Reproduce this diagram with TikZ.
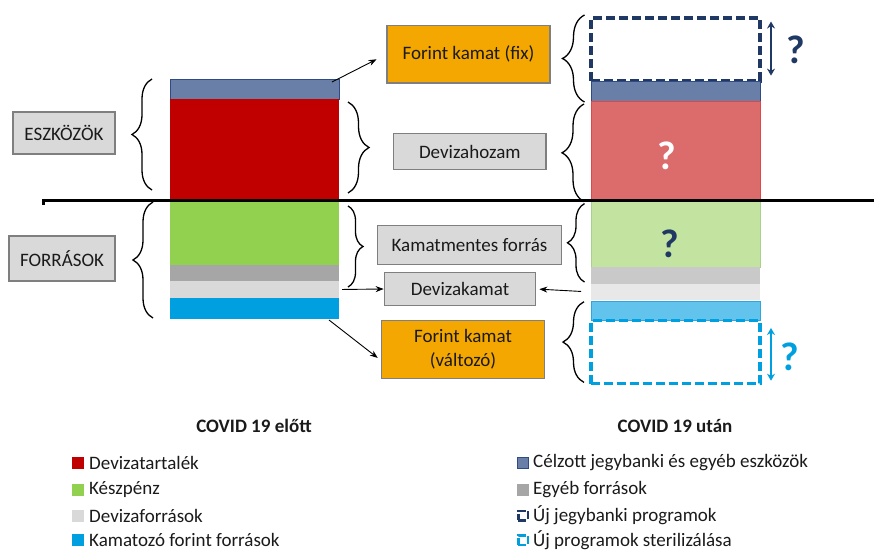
\documentclass[tikz,border=0pt]{standalone}
\usepackage{fontspec}
\setmainfont{Carlito}
\usetikzlibrary{calc,arrows.meta,decorations.pathreplacing}
\definecolor{navy}{HTML}{1F3864}
\definecolor{steel}{HTML}{6A7FA8}
\definecolor{steelb}{HTML}{2F4A85}
\definecolor{dred}{HTML}{C00000}
\definecolor{lred}{HTML}{DC6B6B}
\definecolor{lredb}{HTML}{E04848}
\definecolor{lgreen}{HTML}{92D050}
\definecolor{pgreen}{HTML}{C3E3A0}
\definecolor{pgreenb}{HTML}{A9D18E}
\definecolor{mgray}{HTML}{A6A6A6}
\definecolor{pgray}{HTML}{C9C9C9}
\definecolor{lgray}{HTML}{D9D9D9}
\definecolor{vlgray}{HTML}{E8E8E8}
\definecolor{cyanb}{HTML}{00A0E0}
\definecolor{lcyan}{HTML}{62C3EC}
\definecolor{lcyanb}{HTML}{2EA7E0}
\definecolor{orangeb}{HTML}{F4A700}
\definecolor{boxedge}{HTML}{7F7F7F}
\definecolor{txt}{HTML}{1A1A1A}
\tikzset{
  lbl/.style={draw=boxedge, line width=1.2pt, fill=lgray, inner sep=0pt, align=center,
    text=txt, font=\fontsize{19}{24}\selectfont},
  obox/.style={lbl, fill=orangeb},
  bar/.style={inner sep=0pt, outer sep=0pt, minimum width=169pt},
  dashbox/.style={bar, line width=3.3pt, dash pattern=on 9pt off 4pt},
  cbrace/.style={decorate, decoration={brace, amplitude=#1}, line width=1.3pt},
  conn/.style={-{Stealth[length=8pt,width=6pt]}, line width=0.9pt},
  dbl/.style={line width=2.2pt, {Stealth[length=7pt,width=8pt]}-{Stealth[length=7pt,width=8pt]}},
  qm/.style={font=\fontsize{40}{40}\selectfont\bfseries, inner sep=0pt},
  legsq/.style={minimum size=12pt, inner sep=0pt, outer sep=0pt},
  legtxt/.style={anchor=west, inner sep=0pt, text=txt, font=\fontsize{19}{23}\selectfont},
  title/.style={inner sep=0pt, text=txt, font=\fontsize{19}{23}\selectfont\bfseries}
}
\begin{document}
\begin{tikzpicture}[x=1pt,y=-1pt]
\useasboundingbox (0,0) rectangle (874,551);
\clip (0,0) rectangle (874,551);

% left bar
\node[bar, fill=steel, draw=steelb, line width=0.8pt, minimum height=20pt] (L1) at (254.5,89) {};
\node[bar, fill=dred, minimum height=100pt] (L2) at (254.5,149) {};
\node[bar, fill=lgreen, minimum height=66pt] (L3) at (254.5,232) {};
\node[bar, fill=mgray, minimum height=16pt] (L4) at (254.5,273) {};
\node[bar, fill=lgray, minimum height=17pt] (L5) at (254.5,289.5) {};
\node[bar, fill=cyanb, minimum height=21pt] (L6) at (254.5,308.5) {};

% right bar
\node[dashbox, draw=navy, minimum height=63pt] (R0) at (675.5,49.5) {};
\node[bar, fill=steel, draw=steelb, line width=0.8pt, minimum height=20.5pt] (R1) at (675.5,91.25) {};
\node[bar, fill=lred, draw=lredb, line width=0.6pt, minimum height=97.5pt] (R2) at (675.5,150.25) {};
\node[bar, fill=pgreen, draw=pgreenb, line width=0.6pt, minimum height=68pt] (R3) at (675.5,233) {};
\node[bar, fill=pgray, minimum height=17pt] (R4) at (675.5,275.5) {};
\node[bar, fill=vlgray, minimum height=16pt] (R5) at (675.5,292) {};
\node[bar, fill=lcyan, draw=lcyanb, line width=0.8pt, minimum height=19pt] (R6) at (675.5,311) {};
\node[dashbox, draw=cyanb, minimum height=63pt] (R7) at (675.5,352) {};

% separator line
\draw[line width=3pt] (43,205) -- (43,200) -- (874,200);

% label boxes
\node[lbl, minimum width=102pt, minimum height=42pt] (esz) at (64,133) {ESZKÖZÖK};
\node[lbl, minimum width=106pt, minimum height=45pt] (forr) at (62,258.5) {FORRÁSOK};
\node[obox, minimum width=163pt, minimum height=57.5pt] (fix) at (468.5,54.3) {Forint kamat (fix)};
\node[lbl, minimum width=152.5pt, minimum height=36pt] (dh) at (469.8,151.5) {Devizahozam};
\node[lbl, minimum width=184pt, minimum height=38.5pt] (km) at (469.5,245) {Kamatmentes forrás};
\node[lbl, minimum width=151.5pt, minimum height=33.4pt] (dk) at (460,289) {Devizakamat};
\node[obox, minimum width=163pt, minimum height=58pt] (valt) at (463,349.4) {Forint kamat\\(változó)};

% braces
\draw[cbrace=20pt] (152,190) -- (152,79);
\draw[cbrace=20pt] (153,318) -- (153,202);
\draw[cbrace=21pt] (348,102) -- (348,193);
\draw[cbrace=15pt] (348,206) -- (348,287);
\draw[cbrace=22pt] (584.5,102) -- (584.5,15);
\draw[cbrace=22pt] (584,201.6) -- (584,104);
\draw[cbrace=17pt] (584.5,282) -- (584.5,203.6);
\draw[cbrace=21pt] (584,382.4) -- (584,301.7);

% connectors
\draw[conn, shorten >=11pt] ($(L1.east)+(-7,-7)$) -- (fix.west);
\draw[conn, shorten <=3pt] (L5.east) -- (dk.west);
\draw[conn, shorten <=10pt, shorten >=3pt] (R5.west) -- (dk.east);
\draw[conn, shorten >=4pt] ($(L6.south east)+(-10,1)$) -- ($(valt.west)+(0,11)$);

% double arrows
\coordinate (a1) at (771,21.5);
\coordinate (a2) at (771,75.6);
\coordinate (b1) at (771,328);
\coordinate (b2) at (771,380.7);
\draw[dbl, navy] (a1) -- (a2);
\draw[dbl, cyanb] (b1) -- (b2);

% question marks
\node[qm, text=navy] (q1) at (796,50) {?};
\node[qm, text=white] (q2) at (667,156) {?};
\node[qm, text=navy] (q3) at (670,244) {?};
\node[qm, text=cyanb] (q4) at (790,357) {?};

% titles
\node[title] (t1) at (254,426) {COVID 19 előtt};
\node[title] (t2) at (675,426) {COVID 19 után};

% legend left
\node[legsq, fill=dred] (s1) at (78,463) {};
\node[legtxt] (l1) at (89,463) {Devizatartalék};
\node[legsq, fill=lgreen] (s2) at (78,489.5) {};
\node[legtxt] (l2) at (89,489.5) {Készpénz};
\node[legsq, fill=lgray] (s3) at (78,515.5) {};
\node[legtxt] (l3) at (89,515.5) {Devizaforrások};
\node[legsq, fill=cyanb] (s4) at (78,540) {};
\node[legtxt] (l4) at (89,540) {Kamatozó forint források};

% legend right
\node[legsq, fill=steel, draw=steelb, line width=0.8pt, minimum size=11pt] (s5) at (523,463) {};
\node[legtxt] (l5) at (533,463) {Célzott jegybanki és egyéb eszközök};
\node[legsq, fill=mgray] (s6) at (523,489.5) {};
\node[legtxt] (l6) at (533,489.5) {Egyéb források};
\node[legsq, draw=navy, line width=2.5pt, dash pattern=on 8pt off 2.5pt, minimum size=9.5pt] (s7) at (523,515.5) {};
\node[legtxt] (l7) at (533,515.5) {Új jegybanki programok};
\node[legsq, draw=cyanb, line width=2.5pt, dash pattern=on 8pt off 2.5pt, minimum size=9.5pt] (s8) at (523,540) {};
\node[legtxt] (l8) at (533,540) {Új programok sterilizálása};
\end{tikzpicture}
\end{document}
